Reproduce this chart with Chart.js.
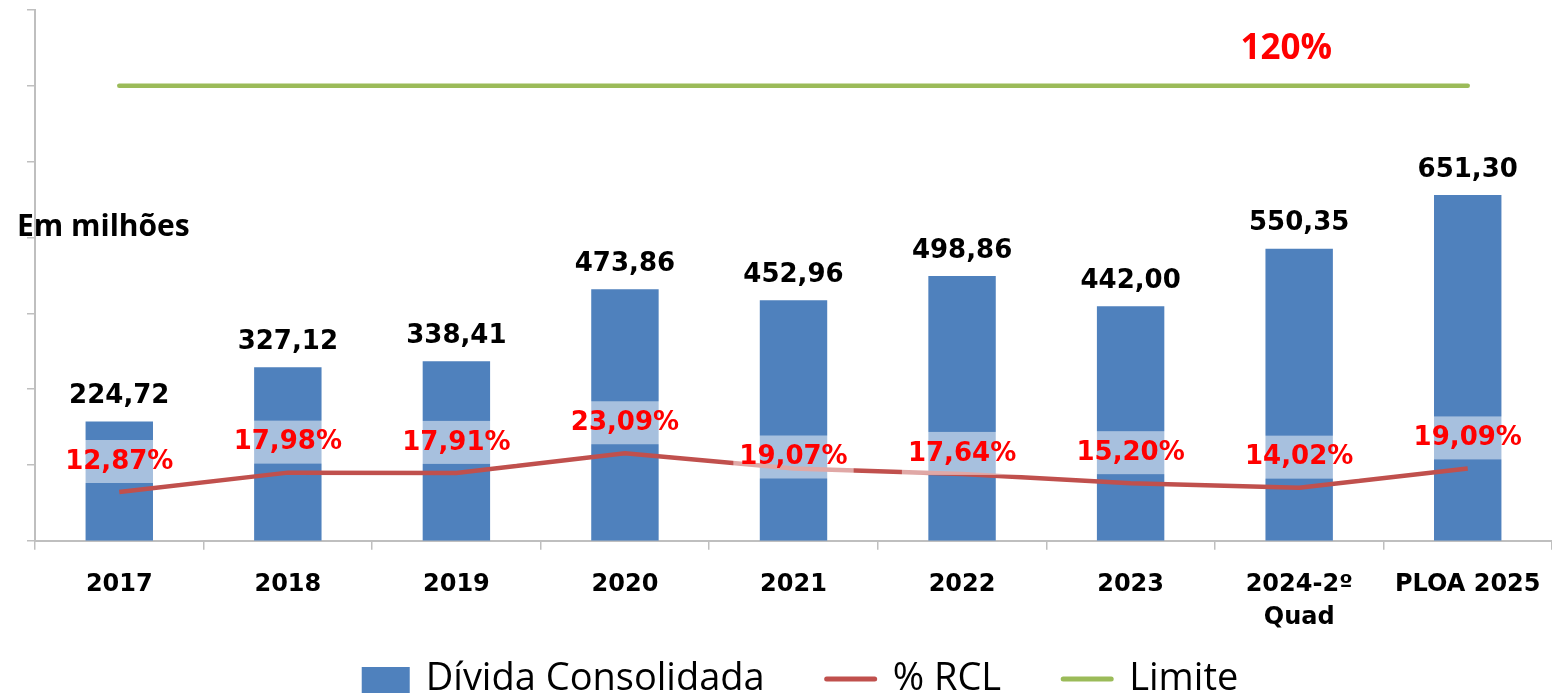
<!DOCTYPE html>
<html>
<head>
<meta charset="utf-8">
<script src="https://cdn.jsdelivr.net/npm/chart.js@4"></script>
<style>
html, body { margin: 0; padding: 0; background: #fff; overflow: hidden; }
#wrap { position: relative; width: 1552px; height: 694px; }
</style>
</head>
<body>
<div id="wrap"><canvas id="chart"></canvas></div>
<script>
"use strict";

// Data

var CATEGORIES = ["2017", "2018", "2019", "2020", "2021", "2022", "2023",
	["2024-2º", "Quad"], "PLOA 2025"];
var DIVIDA = [224.72, 327.12, 338.41, 473.86, 452.96, 498.86, 442.00, 550.35, 651.30];
var RCL = [12.87, 17.98, 17.91, 23.09, 19.07, 17.64, 15.20, 14.02, 19.09];
var LIMITE = [120, 120, 120, 120, 120, 120, 120, 120, 120];
var PCT_MAX = 140, PCT_STEP = 20, BAR_MAX = 1000;

// label lift above the % RCL points (px), a few sit lower in the original
var RCL_LABEL_LIFT = [30, 30, 30, 30, 11, 20, 30, 30, 30];

var BLUE = "#4F81BD",
	RED = "#C0504D",
	GREEN = "#9BBB59",
	AXIS = "#BFBFBF";

var LEGEND = [
	{ text: "Dívida Consolidada", color: BLUE, kind: "rect" },
	{ text: "% RCL", color: RED, kind: "line" },
	{ text: "Limite", color: GREEN, kind: "line" }
];

function fmt(v) {
	return v.toFixed(2).replace(".", ",");
}

// Labels, notes and legend drawn over the chart

var labelsPlugin = {
	id: "valueLabels",
	afterDatasetsDraw: function (chart) {
		var ctx = chart.ctx,
			bars = chart.getDatasetMeta(0).data,
			rcl = chart.getDatasetMeta(1).data,
			lim = chart.getDatasetMeta(2).data;

		ctx.save();
		ctx.textAlign = "center";
		ctx.textBaseline = "middle";
		ctx.font = "bold 26px 'DejaVu Sans'";

		ctx.fillStyle = "#000";
		bars.forEach(function (bar, i) {
			ctx.fillText(fmt(DIVIDA[i]), bar.x, bar.y - 25);
		});

		rcl.forEach(function (pt, i) {
			var text = fmt(RCL[i]) + "%",
				y = pt.y - RCL_LABEL_LIFT[i],
				w = ctx.measureText(text).width + 12;
			ctx.fillStyle = "rgba(255,255,255,0.5)";
			ctx.fillRect(pt.x - w / 2, y - 22, w, 43);
			ctx.fillStyle = "#FF0000";
			ctx.fillText(text, pt.x, y);
		});

		// limit label sits a little left of the 2024 point
		ctx.font = "bold 35px 'Open Sans'";
		ctx.fillStyle = "#FF0000";
		ctx.fillText(LIMITE[7] + "%", lim[7].x - 13, lim[7].y - 37);

		ctx.textAlign = "left";
		ctx.font = "bold 30px 'Open Sans'";
		ctx.fillStyle = "#000";
		ctx.fillText("Em milhões", 17, 227);
		ctx.restore();
	},
	afterDraw: function (chart) {
		var ctx = chart.ctx, total = 0, x, gap = 16, spacing = 60;

		ctx.save();
		ctx.font = "38px 'Open Sans'";
		LEGEND.forEach(function (item) {
			item.mark = item.kind === "rect" ? 48 : 52;
			item.w = ctx.measureText(item.text).width;
			total += item.mark + gap + item.w;
		});
		total += spacing * (LEGEND.length - 1);
		x = 800 - total / 2;
		LEGEND.forEach(function (item) {
			if (item.kind === "rect") {
				ctx.fillStyle = item.color;
				ctx.fillRect(x, 667, item.mark, 26);
			}
			else {
				ctx.strokeStyle = item.color;
				ctx.lineWidth = 5;
				ctx.lineCap = "round";
				ctx.beginPath();
				ctx.moveTo(x + 2, 679);
				ctx.lineTo(x + item.mark - 2, 679);
				ctx.stroke();
			}
			x += item.mark + gap;
			ctx.fillStyle = "#000";
			ctx.textBaseline = "alphabetic";
			ctx.fillText(item.text, x, 690);
			x += item.w + spacing;
		});
		ctx.restore();
	}
};

new Chart(document.getElementById("chart"), {
	type: "bar",
	data: {
		labels: CATEGORIES,
		datasets: [
			{
				type: "bar",
				label: "Dívida Consolidada",
				data: DIVIDA,
				yAxisID: "yBar",
				backgroundColor: BLUE,
				categoryPercentage: 0.8,
				barPercentage: 0.5,
				order: 3
			},
			{
				type: "line",
				label: "% RCL",
				data: RCL,
				yAxisID: "yPct",
				borderColor: RED,
				borderWidth: 4.5,
				pointRadius: 0,
				tension: 0,
				order: 2
			},
			{
				type: "line",
				label: "Limite",
				data: LIMITE,
				yAxisID: "yPct",
				borderColor: GREEN,
				borderWidth: 4.5,
				borderCapStyle: "round",
				pointRadius: 0,
				order: 1
			}
		]
	},
	options: {
		responsive: true,
		maintainAspectRatio: false,
		animation: false,
		layout: { padding: { left: 27, right: 0, top: 10, bottom: 41 } },
		plugins: {
			legend: { display: false },
			tooltip: { enabled: false }
		},
		scales: {
			x: {
				offset: true,
				// the plot runs right up to the page edge in the original
				afterFit: function (scale) {
					scale.paddingRight = 0;
				},
				grid: {
					offset: true,
					drawOnChartArea: false,
					drawTicks: true,
					tickLength: 9,
					color: AXIS,
					lineWidth: 1.5
				},
				border: { color: AXIS, width: 2 },
				ticks: {
					color: "#000",
					font: { family: "DejaVu Sans", weight: "bold", size: 24, lineHeight: 1.4 },
					padding: 18,
					maxRotation: 0,
					autoSkip: false
				}
			},
			yPct: {
				position: "left",
				min: 0,
				max: PCT_MAX,
				ticks: { stepSize: PCT_STEP, display: false },
				grid: {
					drawOnChartArea: false,
					tickLength: 8,
					color: AXIS,
					lineWidth: 1.5
				},
				border: { color: AXIS, width: 2 }
			},
			yBar: {
				display: false,
				min: 0,
				max: BAR_MAX
			}
		}
	},
	plugins: [labelsPlugin]
});
</script>
</body>
</html>
